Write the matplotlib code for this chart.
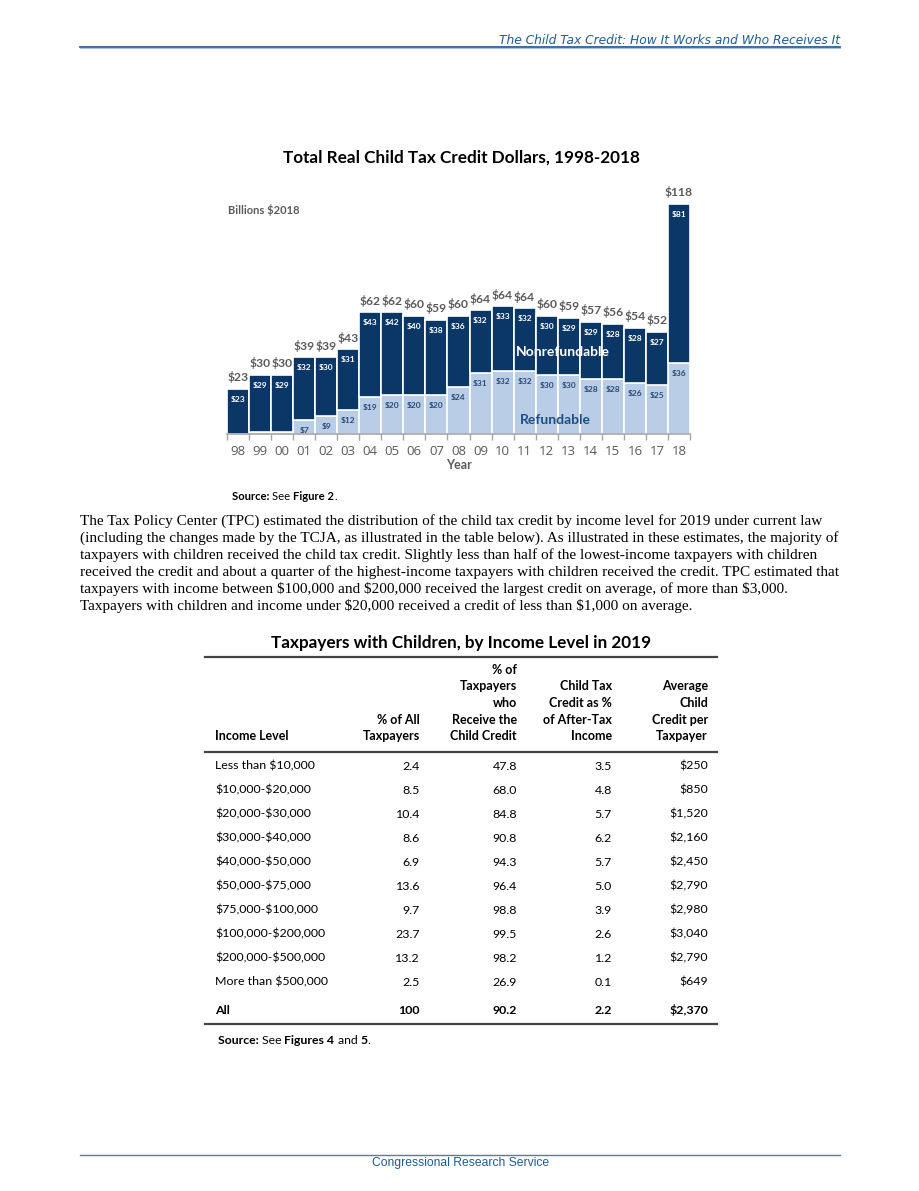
import matplotlib
matplotlib.use("Agg")
import matplotlib.pyplot as plt
from matplotlib.lines import Line2D

plt.rcParams['text.parse_math'] = False

W, H = 920, 1191

years = ["98", "99", "00", "01", "02", "03", "04", "05", "06", "07", "08",
         "09", "10", "11", "12", "13", "14", "15", "16", "17", "18"]
refundable = [0, 1, 1, 7, 9, 12, 19, 20, 20, 20, 24,
              31, 32, 32, 30, 30, 28, 28, 26, 25, 36]
nonrefundable = [23, 29, 29, 32, 30, 31, 43, 42, 40, 38, 36,
                 32, 33, 32, 30, 29, 29, 28, 28, 27, 81]
totals = [23, 30, 30, 39, 39, 43, 62, 62, 60, 59, 60,
          64, 64, 64, 60, 59, 57, 56, 54, 52, 118]

income_levels = ["Less than $10,000", "$10,000-$20,000", "$20,000-$30,000",
                 "$30,000-$40,000", "$40,000-$50,000", "$50,000-$75,000",
                 "$75,000-$100,000", "$100,000-$200,000", "$200,000-$500,000",
                 "More than $500,000", "All"]
pct_all = ["2.4", "8.5", "10.4", "8.6", "6.9", "13.6", "9.7", "23.7", "13.2", "2.5", "100"]
pct_receive = ["47.8", "68.0", "84.8", "90.8", "94.3", "96.4", "98.8", "99.5", "98.2", "26.9", "90.2"]
pct_income = ["3.5", "4.8", "5.7", "6.2", "5.7", "5.0", "3.9", "2.6", "1.2", "0.1", "2.2"]
avg_credit = ["$250", "$850", "$1,520", "$2,160", "$2,450", "$2,790", "$2,980",
              "$3,040", "$2,790", "$649", "$2,370"]

col_headers = ["Income Level", "% of All\nTaxpayers", "% of\nTaxpayers\nwho\nReceive the\nChild Credit",
               "Child Tax\nCredit as %\nof After-Tax\nIncome", "Average\nChild\nCredit per\nTaxpayer"]

paragraph = [
    "The Tax Policy Center (TPC) estimated the distribution of the child tax credit by income level for 2019 under current law",
    "(including the changes made by the TCJA, as illustrated in the table below). As illustrated in these estimates, the majority of",
    "taxpayers with children received the child tax credit. Slightly less than half of the lowest-income taxpayers with children",
    "received the credit and about a quarter of the highest-income taxpayers with children received the credit. TPC estimated that",
    "taxpayers with income between $100,000 and $200,000 received the largest credit on average, of more than $3,000.",
    "Taxpayers with children and income under $20,000 received a credit of less than $1,000 on average.",
]

navy = "#0b3766"
light = "#b9cde6"
gray = "#5a5a5a"
crs_blue = "#1f5b99"
sans = ["Lato", "DejaVu Sans"]


def fx(x):
    return x / W


def fy(y):
    return 1 - y / H


fig = plt.figure(figsize=(W / 100, H / 100), dpi=100)
fig.patch.set_facecolor("white")
renderer = fig.canvas.get_renderer()


def runs(x0, y0, parts, size):
    # draw text pieces one after another, bold or not
    xpos = x0
    for txt, weight in parts:
        t = fig.text(fx(xpos), fy(y0), txt, ha="left", va="center", fontsize=size,
                     fontweight=weight, family=sans)
        xpos += t.get_window_extent(renderer).width


# page header / footer
fig.text(fx(840), fy(40), "The Child Tax Credit: How It Works and Who Receives It",
         ha="right", va="center", fontsize=8.8, style="italic", color=crs_blue,
         family="DejaVu Sans")
fig.add_artist(Line2D([fx(80), fx(840)], [fy(46.5), fy(46.5)], color="#2a6099", lw=1.3))
fig.add_artist(Line2D([fx(80), fx(840)], [fy(48), fy(48)], color="#a9c4e0", lw=0.8))
fig.add_artist(Line2D([fx(80), fx(840)], [fy(1155), fy(1155)], color="#4a7fb0", lw=1.0))
fig.text(fx(461), fy(1163), "Congressional Research Service", ha="center", va="center",
         fontsize=8.7, color=crs_blue, family="Liberation Sans")

# bar chart
fig.text(fx(461), fy(158), "Total Real Child Tax Credit Dollars, 1998-2018", ha="center",
         va="center", fontsize=12.3, fontweight="bold", family=sans)

ymax = 130
ax = fig.add_axes([fx(227), fy(434), (690 - 227) / W, ymax * 1.966 / H])
x = list(range(len(years)))
ax.bar(x, refundable, width=1.0, color=light, edgecolor="white", linewidth=1.2)
ax.bar(x, nonrefundable, bottom=refundable, width=1.0, color=navy, edgecolor="white", linewidth=1.2)
ax.set_xlim(-0.5, len(years) - 0.5)
ax.set_ylim(0, ymax)
for s in ["top", "right", "left"]:
    ax.spines[s].set_visible(False)
ax.spines["bottom"].set_color("#a6a6a6")
ax.spines["bottom"].set_linewidth(1.2)
ax.set_yticks([])
ax.set_xticks(x)
ax.set_xticklabels(years, fontsize=9.5, color=gray, family=["Open Sans", "DejaVu Sans"])
ax.tick_params(axis="x", which="major", length=0, pad=8)
ax.set_xticks([i - 0.5 for i in range(len(years) + 1)], minor=True)
ax.tick_params(axis="x", which="minor", length=4, color="#a6a6a6", width=1)
ax.set_xlabel("Year", fontsize=9, fontweight="bold", color=gray, family=sans, labelpad=1)

for i in x:
    ax.annotate(f"${totals[i]}", (i, refundable[i] + nonrefundable[i]), xytext=(0, 4),
                textcoords="offset points", ha="center", va="bottom", fontsize=8.7,
                fontweight="bold", color=gray, family=sans)
    ax.annotate(f"${nonrefundable[i]}", (i, refundable[i] + nonrefundable[i]), xytext=(0, -7.5),
                textcoords="offset points", ha="center", va="center", fontsize=6,
                fontweight="bold", color="white", family=sans)
    if refundable[i] >= 5:
        ax.annotate(f"${refundable[i]}", (i, refundable[i]), xytext=(0, -7.5),
                    textcoords="offset points", ha="center", va="center", fontsize=6,
                    fontweight="bold", color="#2a4a78", family=sans)

fig.text(fx(228), fy(210), "Billions $2018", ha="left", va="center", fontsize=8,
         fontweight="bold", color=gray, family=sans)
fig.text(fx(563), fy(352), "Nonrefundable", ha="center", va="center", fontsize=10,
         fontweight="bold", color="white", family=sans)
fig.text(fx(555), fy(420), "Refundable", ha="center", va="center", fontsize=10,
         fontweight="bold", color="#1f4e85", family=sans)

# chart source
runs(232, 497, [("Source: ", "bold"), ("See ", "normal"), ("Figure 2", "bold"), (".", "normal")], 8.1)

# paragraph
for k, line in enumerate(paragraph):
    fig.text(fx(80), fy(521 + k * 17), line, ha="left", va="center", fontsize=11.0,
             family="Liberation Serif")

# table
fig.text(fx(461), fy(643), "Taxpayers with Children, by Income Level in 2019", ha="center",
         va="center", fontsize=12.3, fontweight="bold", family=sans)
tl, tr = 205, 717
fig.add_artist(Line2D([fx(tl), fx(tr)], [fy(657), fy(657)], color="#444444", lw=1.6))
fig.add_artist(Line2D([fx(tl), fx(tr)], [fy(752), fy(752)], color="#444444", lw=1.6))
fig.add_artist(Line2D([fx(tl), fx(tr)], [fy(1024), fy(1024)], color="#444444", lw=1.6))

col_x = [215, 420, 517, 612, 708]
for c, head in enumerate(col_headers):
    fig.text(fx(col_x[c]), fy(742), head, ha="left" if c == 0 else "right", va="bottom",
             fontsize=9, fontweight="bold", family=sans, linespacing=1.45,
             multialignment="left" if c == 0 else "right")

columns = [income_levels, pct_all, pct_receive, pct_income, avg_credit]
for r in range(len(income_levels)):
    yy = 766 + r * 24 + (4 if r == len(income_levels) - 1 else 0)
    bold = "bold" if r == len(income_levels) - 1 else "normal"
    for c, col in enumerate(columns):
        fig.text(fx(col_x[c]), fy(yy), col[r], ha="left" if c == 0 else "right", va="center",
                 fontsize=8.9, fontweight=bold, family=sans)

runs(218, 1040, [("Source: ", "bold"), ("See ", "normal"), ("Figures 4 ", "bold"),
                 ("and ", "normal"), ("5", "bold"), (".", "normal")], 8.8)

fig.savefig("out.png", dpi=100, facecolor="white")
